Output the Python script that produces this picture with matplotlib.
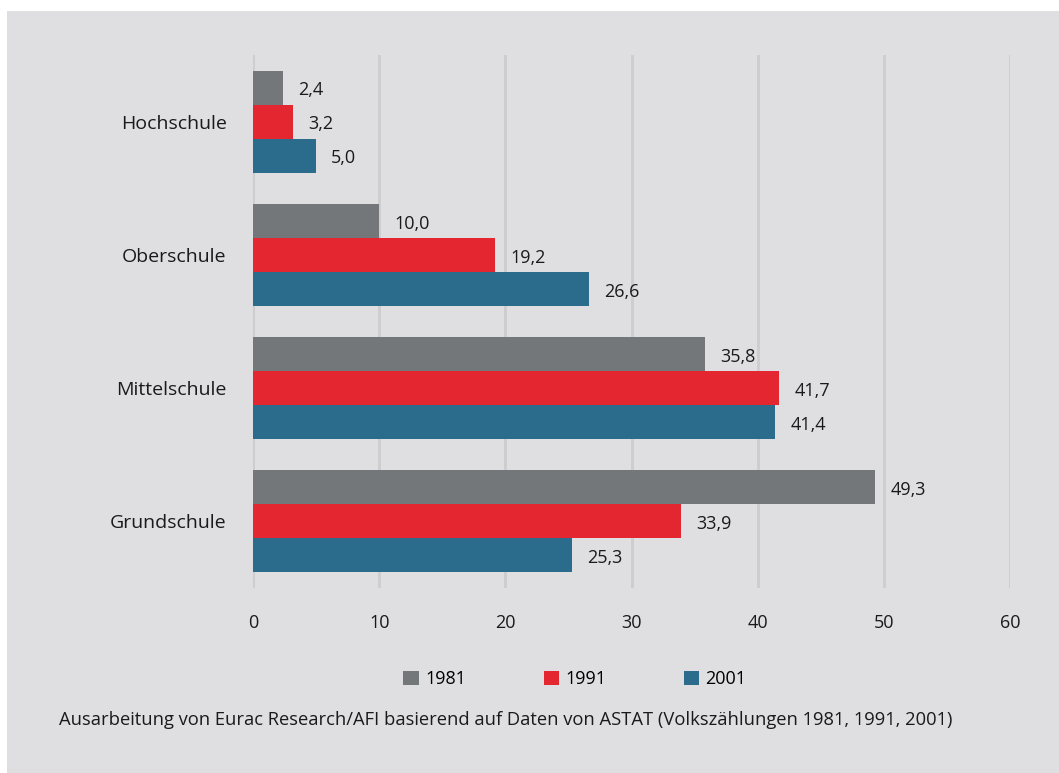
import matplotlib.pyplot as plt
from matplotlib.patches import Rectangle, Patch
import numpy as np

plt.rcParams['font.family'] = ['Open Sans', 'DejaVu Sans']

# Daten
kategorien = ['Hochschule', 'Oberschule', 'Mittelschule', 'Grundschule']
jahre = ['1981', '1991', '2001']
werte_1981 = [2.4, 10.0, 35.8, 49.3]
werte_1991 = [3.2, 19.2, 41.7, 33.9]
werte_2001 = [5.0, 26.6, 41.4, 25.3]
farben = ['#747779', '#e3262f', '#2b6b8c']
quelle = 'Ausarbeitung von Eurac Research/AFI basierend auf Daten von ASTAT (Volkszählungen 1981, 1991, 2001)'

fig = plt.figure(figsize=(10.59, 7.73), dpi=100)
fig.patch.set_facecolor('white')
# grauer Hintergrund
fig.patches.append(Rectangle((7 / 1059, 0), 1 - 7 / 1059, 1 - 11 / 773,
                             transform=fig.transFigure, facecolor='#dfdfe1',
                             edgecolor='none', zorder=-10))

ax = fig.add_axes([253 / 1059, 1 - 588 / 773, (1010 - 253) / 1059, (588 - 55) / 773])
ax.set_facecolor('none')

y = np.arange(len(kategorien))
h = 0.255
for i, (werte, farbe) in enumerate(zip([werte_1981, werte_1991, werte_2001], farben)):
    pos = y + (i - 1) * h
    ax.barh(pos, werte, height=h, color=farbe, zorder=3)
    for p, v in zip(pos, werte):
        ax.text(v + 1.2, p + 0.02, f'{v:.1f}'.replace('.', ','), va='center', ha='left',
                fontsize=13, color='#1a1a1a')

ax.set_xlim(0, 60)
ax.set_ylim(3.5, -0.5)
ax.set_xticks(range(0, 61, 10))
ax.set_yticks(y)
ax.set_yticklabels(kategorien, fontsize=14, color='#1a1a1a')
ax.tick_params(axis='x', labelsize=13, length=0, pad=19, colors='#1a1a1a')
ax.tick_params(axis='y', length=0, pad=19)
ax.grid(axis='x', color='#cdcdcd', linewidth=2, zorder=0)
for s in ax.spines.values():
    s.set_visible(False)

handles = [Patch(facecolor=f, edgecolor='none') for f in farben]
fig.legend(handles, jahre, loc='center', bbox_to_anchor=(575 / 1059, 1 - 679 / 773),
           ncol=3, frameon=False, fontsize=13, handlelength=0.85, handleheight=0.85,
           handletextpad=0.35, columnspacing=4.3)

fig.text(59 / 1059, 1 - 720 / 773, quelle, fontsize=13.2, va='center', ha='left', color='#1a1a1a')

fig.savefig('out.png', dpi=100)
